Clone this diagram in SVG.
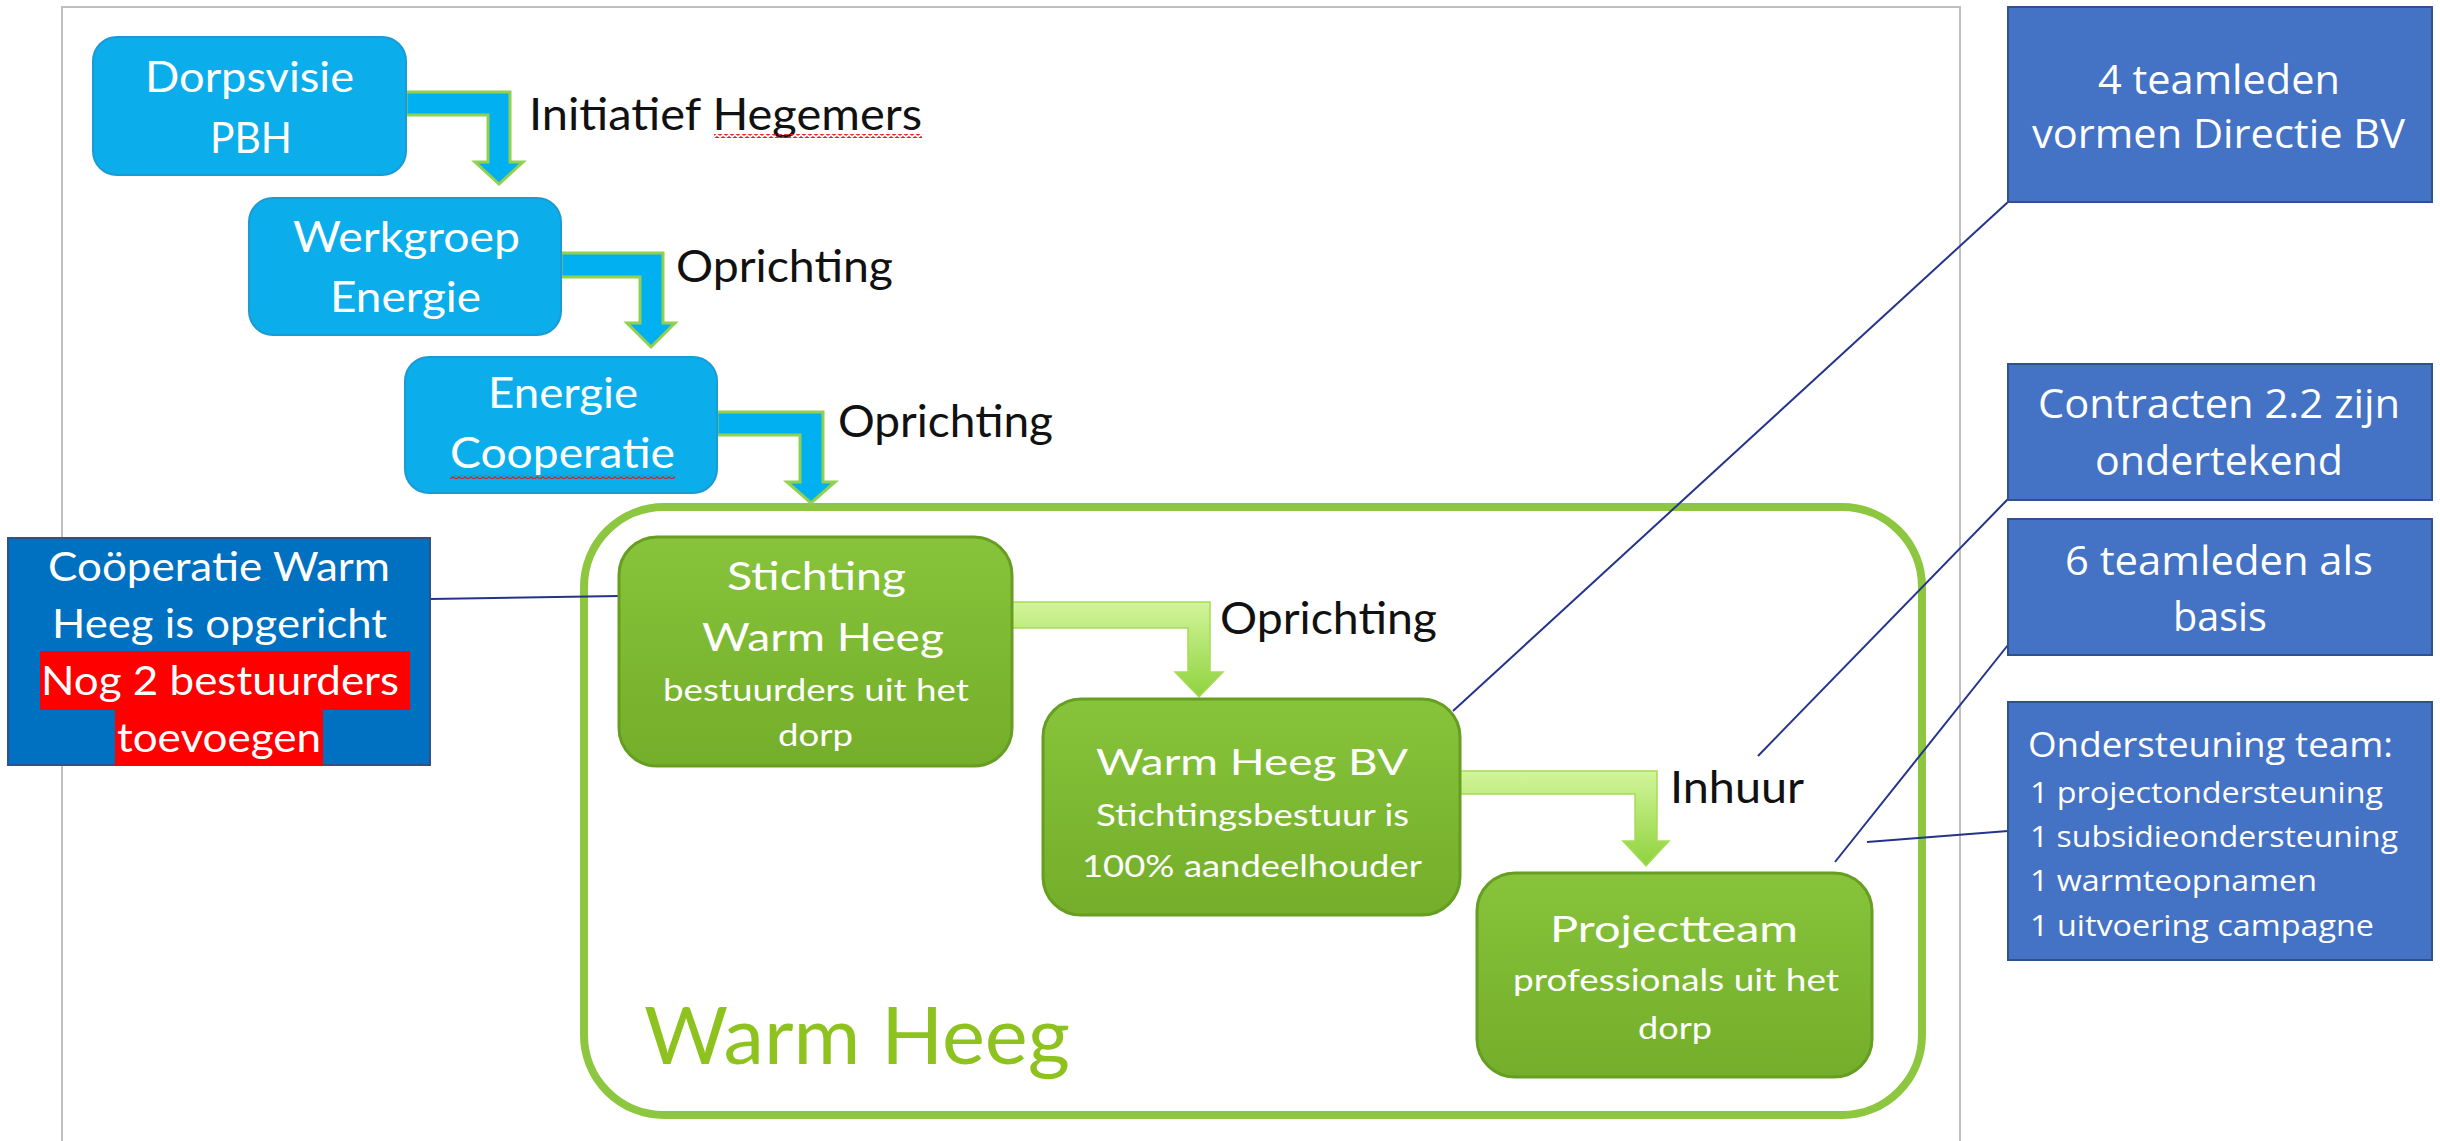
<svg xmlns="http://www.w3.org/2000/svg" width="2440" height="1141" viewBox="0 0 2440 1141">
<defs>
<linearGradient id="gNode" x1="0" y1="0" x2="0" y2="1"><stop offset="0" stop-color="#87C33B"/><stop offset="1" stop-color="#74AE2A"/></linearGradient>
<linearGradient id="gArrow" x1="0" y1="0" x2="0" y2="1"><stop offset="0" stop-color="#D2F59A"/><stop offset="1" stop-color="#8FD23E"/></linearGradient>
<pattern id="wavy" width="6" height="4" patternUnits="userSpaceOnUse"><path d="M0,3.2 L3,0.8 L6,3.2" fill="none" stroke="#E02020" stroke-width="1.3"/></pattern>
</defs>
<style>
.frame{fill:none;stroke:#BFBFBF;stroke-width:2}
.bnode{fill:#0BAEEB;stroke:#1B9AD3;stroke-width:2}
.gnode{fill:url(#gNode);stroke:#669E22;stroke-width:3}
.barrow{fill:#00B0F0;stroke:#92D050;stroke-width:3;stroke-linejoin:miter}
.garrow{fill:url(#gArrow);stroke:#A6DC55;stroke-width:1.5}
.note{fill:#4472C4;stroke:#2F528F;stroke-width:2}
.cnote{fill:#0070C0;stroke:#2F528F;stroke-width:2}
.hl{fill:#FF0000}
.link{stroke:#24348A;stroke-width:2;fill:none}
.cal{font-family:Lato,'Liberation Sans',sans-serif}
.seg{font-family:'Open Sans','Noto Sans',sans-serif}
.w{fill:#ffffff}
.k{fill:#111111}
.big{font-size:38px}
.sm{font-size:30px}
</style>
<rect width="2440" height="1141" fill="#ffffff"/>
<path class="frame" d="M62,1141 V7 H1960 V1141"/>

<g id="container-warmheeg">
<rect x="584" y="507" width="1338" height="608" rx="80" fill="none" stroke="#8DC63F" stroke-width="8"/>
<text class="cal" x="644" y="1064" font-size="80" fill="#8DC21F" textLength="426" lengthAdjust="spacingAndGlyphs">Warm Heeg</text>
</g>

<g id="connectors">
<polygon class="barrow" points="406,92 510,92 510,162 523,162 499,184 475,162 488,162 488,115 406,115"/>
<polygon class="barrow" points="561,253 663,253 663,323 675,323 651,347 627,323 640,323 640,277 561,277"/>
<polygon class="barrow" points="717,412 823,412 823,482 835,482 811,503 787,482 800,482 800,435 717,435"/>
<polygon class="garrow" points="1012,602 1210,602 1210,672 1223,672 1199,697 1175,672 1188,672 1188,628 1012,628"/>
<polygon class="garrow" points="1460,771 1657,771 1657,841 1669,841 1646,866 1623,841 1635,841 1635,794 1460,794"/>
<line class="link" x1="430" y1="599" x2="619" y2="596"/>
<line class="link" x1="1453" y1="711" x2="2008" y2="202"/>
<line class="link" x1="1758" y1="756" x2="2008" y2="499"/>
<line class="link" x1="1835" y1="862" x2="2008" y2="645"/>
<line class="link" x1="1867" y1="842" x2="2008" y2="831"/>
<text class="cal k" x="529" y="130" font-size="44" textLength="393" lengthAdjust="spacingAndGlyphs">Initiatief Hegemers</text>
<rect x="714" y="134" width="208" height="4" fill="url(#wavy)"/>
<text class="cal k" x="676" y="282" font-size="44" textLength="217" lengthAdjust="spacingAndGlyphs">Oprichting</text>
<text class="cal k" x="838" y="437" font-size="44" textLength="215" lengthAdjust="spacingAndGlyphs">Oprichting</text>
<text class="cal k" x="1220" y="634" font-size="44" textLength="217" lengthAdjust="spacingAndGlyphs">Oprichting</text>
<text class="cal k" x="1670" y="803" font-size="44" textLength="134" lengthAdjust="spacingAndGlyphs">Inhuur</text>
</g>

<g id="dorpsvisie">
<rect class="bnode" x="93" y="37" width="313" height="138" rx="24"/>
<text class="cal w" x="145" y="92" font-size="42" textLength="209" lengthAdjust="spacingAndGlyphs">Dorpsvisie</text>
<text class="cal w" x="210" y="153" font-size="42" textLength="82" lengthAdjust="spacingAndGlyphs">PBH</text>
</g>

<g id="werkgroep">
<rect class="bnode" x="249" y="198" width="312" height="137" rx="24"/>
<text class="cal w" x="293" y="252" font-size="42" textLength="227" lengthAdjust="spacingAndGlyphs">Werkgroep</text>
<text class="cal w" x="330" y="312" font-size="42" textLength="151" lengthAdjust="spacingAndGlyphs">Energie</text>
</g>

<g id="cooperatie">
<rect class="bnode" x="405" y="357" width="312" height="136" rx="24"/>
<text class="cal w" x="488" y="408" font-size="42" textLength="150" lengthAdjust="spacingAndGlyphs">Energie</text>
<text class="cal w" x="450" y="468" font-size="42" textLength="225" lengthAdjust="spacingAndGlyphs">Cooperatie</text>
<rect x="450" y="475" width="225" height="4" fill="url(#wavy)"/>
</g>

<g id="stichting">
<rect class="gnode" x="619" y="537" width="393" height="229" rx="38"/>
<text class="cal w big" x="727" y="590" textLength="179" lengthAdjust="spacingAndGlyphs">Stichting</text>
<text class="cal w big" x="702" y="651" textLength="242" lengthAdjust="spacingAndGlyphs">Warm Heeg</text>
<text class="cal w sm" x="663" y="701" textLength="306" lengthAdjust="spacingAndGlyphs">bestuurders uit het</text>
<text class="cal w sm" x="778" y="746" textLength="75" lengthAdjust="spacingAndGlyphs">dorp</text>
</g>

<g id="bv">
<rect class="gnode" x="1043" y="699" width="417" height="216" rx="38"/>
<text class="cal w" x="1096" y="775" font-size="37" textLength="312" lengthAdjust="spacingAndGlyphs">Warm Heeg BV</text>
<text class="cal w sm" x="1096" y="826" textLength="313" lengthAdjust="spacingAndGlyphs">Stichtingsbestuur is</text>
<text class="cal w sm" x="1082" y="877" textLength="340" lengthAdjust="spacingAndGlyphs">100% aandeelhouder</text>
</g>

<g id="projectteam">
<rect class="gnode" x="1477" y="873" width="395" height="204" rx="38"/>
<text class="cal w" x="1550" y="942" font-size="37" textLength="248" lengthAdjust="spacingAndGlyphs">Projectteam</text>
<text class="cal w sm" x="1513" y="991" textLength="326" lengthAdjust="spacingAndGlyphs">professionals uit het</text>
<text class="cal w sm" x="1638" y="1039" textLength="74" lengthAdjust="spacingAndGlyphs">dorp</text>
</g>

<g id="note-cooperatie">
<rect class="cnote" x="8" y="538" width="422" height="227"/>
<rect class="hl" x="40" y="651" width="370" height="59"/>
<rect class="hl" x="115" y="710" width="208" height="56"/>
<text class="cal w" x="48" y="581" font-size="40" textLength="342" lengthAdjust="spacingAndGlyphs">Coöperatie Warm</text>
<text class="cal w" x="52" y="638" font-size="40" textLength="335" lengthAdjust="spacingAndGlyphs">Heeg is opgericht</text>
<text class="cal w" x="41" y="695" font-size="40" textLength="358" lengthAdjust="spacingAndGlyphs">Nog 2 bestuurders</text>
<text class="cal w" x="117" y="752" font-size="40" textLength="204" lengthAdjust="spacingAndGlyphs">toevoegen</text>
</g>

<g id="note-directie">
<rect class="note" x="2008" y="7" width="424" height="195"/>
<text class="seg w" x="2098" y="94" font-size="40" textLength="242" lengthAdjust="spacingAndGlyphs">4 teamleden</text>
<text class="seg w" x="2032" y="148" font-size="40" textLength="373" lengthAdjust="spacingAndGlyphs">vormen Directie BV</text>
</g>

<g id="note-contracten">
<rect class="note" x="2008" y="364" width="424" height="136"/>
<text class="seg w" x="2038" y="418" font-size="40" textLength="362" lengthAdjust="spacingAndGlyphs">Contracten 2.2 zijn</text>
<text class="seg w" x="2095" y="475" font-size="40" textLength="248" lengthAdjust="spacingAndGlyphs">ondertekend</text>
</g>

<g id="note-teamleden">
<rect class="note" x="2008" y="519" width="424" height="136"/>
<text class="seg w" x="2065" y="575" font-size="40" textLength="308" lengthAdjust="spacingAndGlyphs">6 teamleden als</text>
<text class="seg w" x="2173" y="631" font-size="40" textLength="94" lengthAdjust="spacingAndGlyphs">basis</text>
</g>

<g id="note-ondersteuning">
<rect class="note" x="2008" y="702" width="424" height="258"/>
<text class="seg w" x="2028" y="757" font-size="34" textLength="365" lengthAdjust="spacingAndGlyphs">Ondersteuning team:</text>
<text class="seg w" x="2030" y="803" font-size="30" textLength="353" lengthAdjust="spacingAndGlyphs">1 projectondersteuning</text>
<text class="seg w" x="2030" y="847" font-size="30" textLength="368" lengthAdjust="spacingAndGlyphs">1 subsidieondersteuning</text>
<text class="seg w" x="2030" y="891" font-size="30" textLength="287" lengthAdjust="spacingAndGlyphs">1 warmteopnamen</text>
<text class="seg w" x="2030" y="936" font-size="30" textLength="344" lengthAdjust="spacingAndGlyphs">1 uitvoering campagne</text>
</g>
</svg>
